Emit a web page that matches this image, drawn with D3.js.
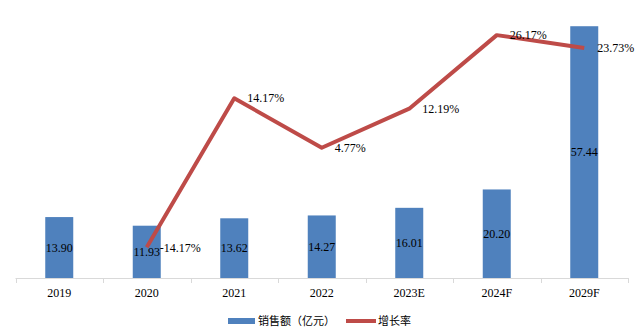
<!DOCTYPE html>
<html><head><meta charset="utf-8">
<script src="https://cdn.jsdelivr.net/npm/d3@7/dist/d3.min.js"></script>
<style>body{margin:0;background:#fff}svg{display:block}</style>
</head><body><svg id="c" width="643" height="329"></svg>
<script>
const categories = ["2019","2020","2021","2022","2023E","2024F","2029F"];
const sales = [13.90,11.93,13.62,14.27,16.01,20.20,57.44];
const growth = [null,-14.17,14.17,4.77,12.19,26.17,23.73];
const growthLabels = ["","-14.17%","14.17%","4.77%","12.19%","26.17%","23.73%"];
const legendNames = ["销售额（亿元）","增长率"];

(function(){
const svg = d3.select("#c");
const left = 15.5, right = 628, base = 278, topY = 15;
const x = d3.scaleBand().domain(categories).range([left, right]).paddingInner(0.68).paddingOuter(0.34);
const y = d3.scaleLinear().domain([0, 60]).range([base, topY]);
const y2 = d3.scaleLinear().domain([-20, 30]).range([base, topY]);
const blue = "#4F81BD", red = "#BE4B48";
const serif = "'Liberation Serif','Times New Roman',serif";

// bars
svg.append("g").selectAll("rect").data(categories).join("rect")
  .attr("x", d => x(d)).attr("width", x.bandwidth())
  .attr("y", (d,i) => y(sales[i])).attr("height", (d,i) => base - y(sales[i]))
  .attr("fill", blue);

// axis
const step = x.step();
const ax = svg.append("g");
ax.append("line").attr("x1", left).attr("x2", right).attr("y1", base+0.5).attr("y2", base+0.5)
  .attr("stroke", "#D9D9D9").attr("stroke-width", 1);
ax.selectAll("line.t").data(d3.range(categories.length+1)).join("line").attr("class","t")
  .attr("x1", i => Math.round(left + i*step)+0.5).attr("x2", i => Math.round(left + i*step)+0.5)
  .attr("y1", base).attr("y2", base+5).attr("stroke", "#D9D9D9");
ax.selectAll("text").data(categories).join("text")
  .attr("x", d => x(d) + x.bandwidth()/2).attr("y", 297)
  .attr("text-anchor", "middle").attr("font-family", serif).attr("font-size", 12)
  .attr("fill", "#000").text(d => d);

// bar labels
svg.append("g").selectAll("text").data(categories).join("text")
  .attr("x", d => x(d) + x.bandwidth()/2)
  .attr("y", (d,i) => (y(sales[i]) + base)/2)
  .attr("dy", "0.35em").attr("text-anchor", "middle")
  .attr("font-family", serif).attr("font-size", 12).attr("fill", "#000")
  .text((d,i) => sales[i].toFixed(2));

// line
const pts = categories.map((d,i) => ({c:d, v:growth[i], l:growthLabels[i]})).filter(p => p.v !== null);
const line = d3.line().x(p => x(p.c) + x.bandwidth()/2).y(p => y2(p.v));
svg.append("path").datum(pts).attr("d", line).attr("fill", "none")
  .attr("stroke", red).attr("stroke-width", 4).attr("stroke-linejoin", "round");

svg.append("g").selectAll("text").data(pts).join("text")
  .attr("x", p => x(p.c) + x.bandwidth()/2 + 13)
  .attr("y", p => y2(p.v)).attr("dy", "0.35em")
  .attr("font-family", serif).attr("font-size", 12).attr("fill", "#000")
  .text(p => p.l);

// legend
const lg = svg.append("g");
lg.append("rect").attr("x", 228).attr("y", 318).attr("width", 27).attr("height", 6).attr("fill", blue);
lg.append("text").attr("x", 258).attr("y", 321).attr("dy","0.35em")
  .attr("font-family", "'Noto Sans CJK SC',sans-serif").attr("font-size", 11).attr("fill","#000").text(legendNames[0]);
lg.append("line").attr("x1", 346).attr("x2", 376).attr("y1", 321).attr("y2", 321)
  .attr("stroke", red).attr("stroke-width", 4);
lg.append("text").attr("x", 378).attr("y", 321).attr("dy","0.35em")
  .attr("font-family", "'Noto Sans CJK SC',sans-serif").attr("font-size", 11).attr("fill","#000").text(legendNames[1]);
})();
</script></body></html>
